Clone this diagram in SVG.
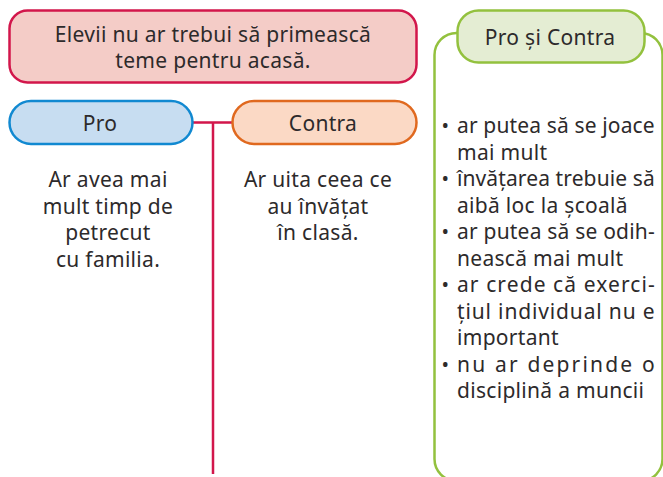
<svg xmlns="http://www.w3.org/2000/svg" width="663" height="477" viewBox="0 0 663 477">
<style>
text{font-family:"Noto Sans","Open Sans","DejaVu Sans",sans-serif;fill:#2d2a2b;font-size:21px;letter-spacing:0.3px}
.c{text-anchor:middle}
.red{fill:#f4ccc7;stroke:#d2164b;stroke-width:2.5}
.blue{fill:#c7ddf1;stroke:#1189d1;stroke-width:2.5}
.orange{fill:#fbd9c5;stroke:#e0691f;stroke-width:2.5}
.green{fill:#e4edd3;stroke:#93c13e;stroke-width:2.5}
.conn{fill:none;stroke:#d2164b;stroke-width:2.5}
.b{text-anchor:middle;font-size:20px}
</style>
<rect width="663" height="477" fill="#ffffff"/>
<g id="connectors">
<path class="conn" d="M193 122.5H232M213 122.5V474"/>
</g>
<g id="title">
<rect class="red" x="9.5" y="10.5" width="407" height="72" rx="18"/>
<text class="c" x="213" y="42">Elevii nu ar trebui să primească</text>
<text class="c" x="213" y="68">teme pentru acasă.</text>
</g>
<g id="pro">
<rect class="blue" x="9.5" y="101" width="183" height="43" rx="21.5"/>
<text class="c" x="100" y="130.5">Pro</text>
<text class="c" x="108" y="187">Ar avea mai</text>
<text class="c" x="108" y="213.5">mult timp de</text>
<text class="c" x="108" y="240">petrecut</text>
<text class="c" x="108" y="266.5">cu familia.</text>
</g>
<g id="contra">
<rect class="orange" x="232.5" y="101" width="184" height="43" rx="21.5"/>
<text class="c" x="323" y="130.5">Contra</text>
<text class="c" x="318" y="187">Ar uita ceea ce</text>
<text class="c" x="318" y="213.5">au învățat</text>
<text class="c" x="318" y="240">în clasă.</text>
</g>
<g id="pro-si-contra">
<rect x="434.5" y="33" width="228" height="448" rx="22" fill="none" stroke="#93c13e" stroke-width="2.5"/>
<rect class="green" x="457.5" y="10.5" width="187" height="52" rx="21"/>
<text class="c" x="550" y="45">Pro și Contra</text>
<g>
<text class="b" x="445.5" y="133">•</text>
<text x="457" y="133" textLength="198" lengthAdjust="spacing">ar putea să se joace</text>
<text x="457" y="159.5">mai mult</text>
<text class="b" x="445.5" y="186">•</text>
<text x="457" y="186" textLength="198" lengthAdjust="spacing">învățarea trebuie să</text>
<text x="457" y="212.5">aibă loc la școală</text>
<text class="b" x="445.5" y="239">•</text>
<text x="457" y="239" textLength="198" lengthAdjust="spacing">ar putea să se odih-</text>
<text x="457" y="265.5">nească mai mult</text>
<text class="b" x="445.5" y="292">•</text>
<text x="457" y="292" textLength="198" lengthAdjust="spacing">ar crede că exerci-</text>
<text x="457" y="318.5" textLength="198" lengthAdjust="spacing">țiul individual nu e</text>
<text x="457" y="345">important</text>
<text class="b" x="445.5" y="371.5">•</text>
<text x="457" y="371.5" textLength="198" lengthAdjust="spacing">nu ar deprinde o</text>
<text x="457" y="398">disciplină a muncii</text>
</g>
</g>
</svg>
